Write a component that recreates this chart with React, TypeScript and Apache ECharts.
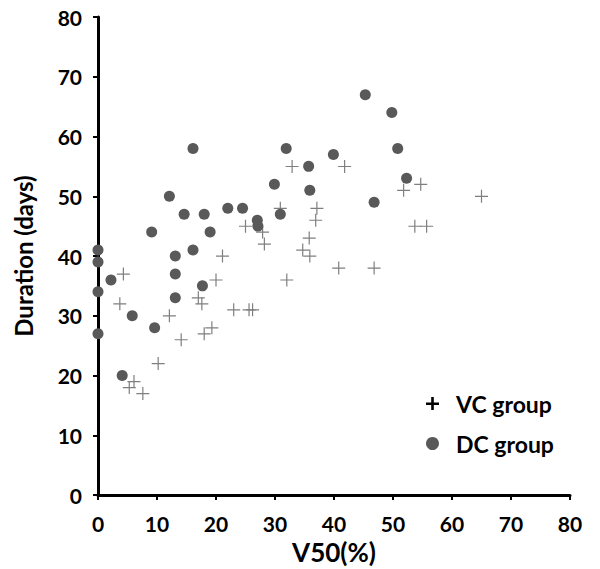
import React, { useEffect, useRef } from "react";
import * as echarts from "echarts";

const vcX = [4.3, 3.7, 5.3, 6.1, 7.6, 10.2, 12.1, 14.1, 17, 17.6, 18, 19.3, 20, 21.1, 23, 25.6, 26.2, 25, 27.9, 28.2, 30.9, 32, 32.9, 34.7, 35.9, 35.8, 36.9, 37.1, 40.8, 41.8, 46.8, 51.8, 54.7, 53.7, 55.7, 65];
const vcY = [37, 32, 18, 19, 17, 22, 30, 26, 33, 32, 27, 28, 36, 40, 31, 31, 31, 45, 44, 42, 48, 36, 55, 41, 40, 43, 46, 48, 38, 55, 38, 51, 52, 45, 45, 50];
const dcX = [0, 0, 0, 0, 2.2, 4.1, 5.8, 9.1, 9.6, 12.1, 13.1, 13.1, 13.1, 14.6, 16.1, 16.1, 17.7, 18, 19, 22, 24.5, 27, 27.1, 29.9, 30.9, 31.9, 35.7, 35.9, 39.9, 45.3, 46.8, 49.8, 50.8, 52.3];
const dcY = [41, 39, 34, 27, 36, 20, 30, 44, 28, 50, 40, 37, 33, 47, 58, 41, 35, 47, 44, 48, 48, 46, 45, 52, 47, 58, 55, 51, 57, 67, 49, 64, 58, 53];
const seriesNames = ["VC group", "DC group"];
const xTitle = "V50(%)";
const yTitle = "Duration (days)";

const crossPath = "path://M0,6h13v1.2h-13z M5.9,0h1.2v13h-1.2z";
const boldCross = "path://M0,5.4h13v2.6h-13z M5.2,0h2.6v13h-2.6z";

export default function App() {
  const ref = useRef<HTMLDivElement>(null);
  useEffect(() => {
    if (!ref.current) return;
    const chart = echarts.init(ref.current, null, { renderer: "svg" });
    const font = "Lato, sans-serif";
    const axisCommon = {
      min: 0,
      max: 80,
      interval: 10,
      splitLine: { show: false },
      axisLine: { show: true, onZero: false, lineStyle: { color: "#000", width: 3 } },
      axisTick: { show: true, inside: false, length: 5, lineStyle: { color: "#000", width: 2 } },
      axisLabel: { color: "#000", fontWeight: "bold", fontSize: 21, fontFamily: font },
    };
    chart.setOption({
      animation: false,
      grid: { left: 90, right: 38, top: 9, bottom: 82, outerBoundsMode: "none", containLabel: false },
      legend: {
        orient: "vertical",
        left: 413,
        top: 379,
        itemGap: 17,
        itemWidth: 13,
        itemHeight: 13,
        textStyle: { color: "#000", fontWeight: "bold", fontSize: 23, fontFamily: font, padding: [0, 0, 0, 12] },
        data: [
          { name: seriesNames[0], icon: boldCross, itemStyle: { color: "#000" } },
          { name: seriesNames[1], icon: "circle", itemStyle: { color: "#595959" } },
        ],
      },
      xAxis: {
        ...axisCommon,
        type: "value",
        name: xTitle,
        nameLocation: "middle",
        nameGap: 44,
        nameTextStyle: { color: "#000", fontWeight: "bold", fontSize: 26, fontFamily: font },
        axisLabel: { ...axisCommon.axisLabel, margin: 18 },
      },
      yAxis: {
        ...axisCommon,
        type: "value",
        name: yTitle,
        nameLocation: "middle",
        nameGap: 63,
        nameTextStyle: { color: "#000", fontWeight: "bold", fontSize: 24, fontFamily: font, lineHeight: 24 },
        axisLabel: { ...axisCommon.axisLabel, margin: 16, lineHeight: 18, padding: [3, 0, 0, 0] },
      },
      series: [
        {
          name: seriesNames[0],
          type: "scatter",
          clip: false,
          symbol: crossPath,
          symbolSize: 13,
          itemStyle: { color: "#7f7f7f", opacity: 1 },
          data: vcX.map((x, i) => [x, vcY[i]]),
        },
        {
          name: seriesNames[1],
          type: "scatter",
          clip: false,
          symbol: "circle",
          symbolSize: 11,
          itemStyle: { color: "#595959", opacity: 1 },
          data: dcX.map((x, i) => [x, dcY[i]]),
        },
      ],
    });
    return () => chart.dispose();
  }, []);
  return <div ref={ref} style={{ width: 600, height: 569 }} />;
}
